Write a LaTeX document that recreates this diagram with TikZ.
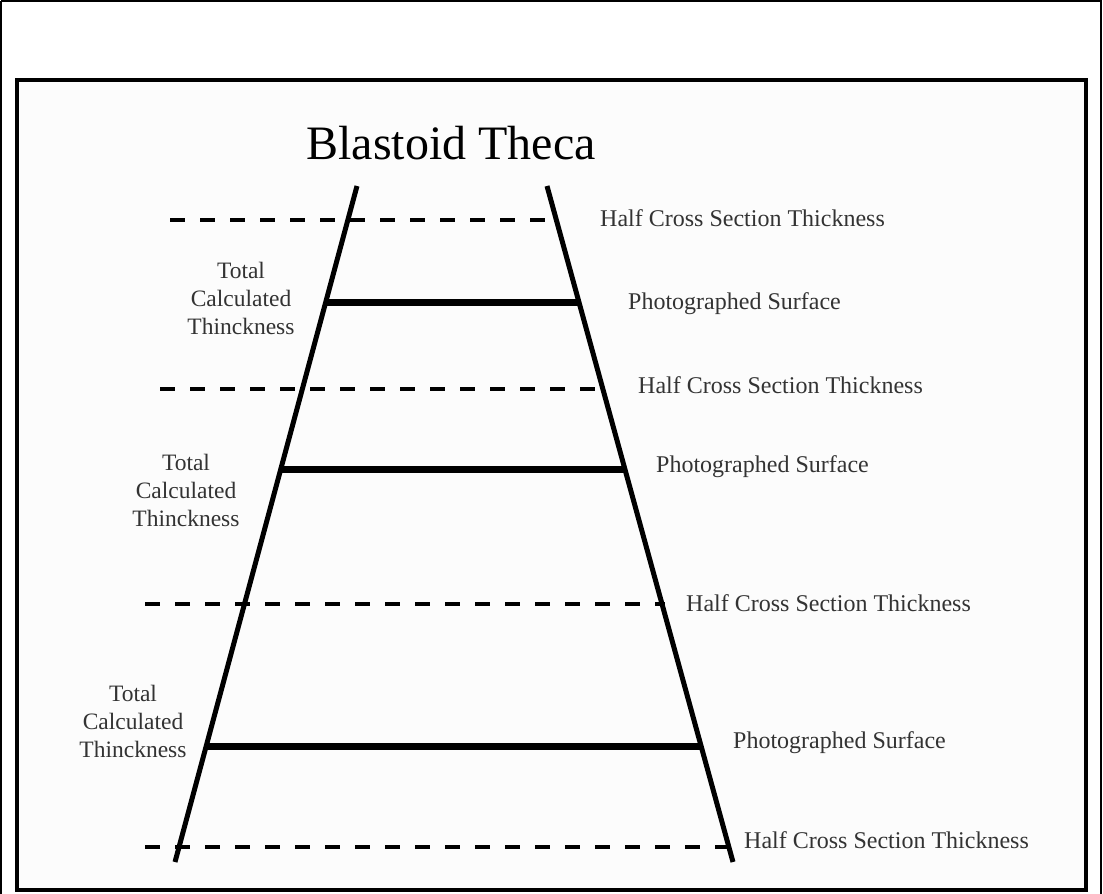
\documentclass[tikz,border=0pt]{standalone}
\usepackage{fontspec}
\setmainfont{Liberation Serif}
\usetikzlibrary{positioning}

\begin{document}
\begin{tikzpicture}[
    x=1pt, y=-1pt,
    wall/.style={line width=5pt},
    half/.style={line width=3.5pt, dash pattern=on 15pt off 15pt},
    surf/.style={line width=7pt},
    lbl/.style={anchor=west, font=\fontsize{24}{26}\selectfont, text=black!80, inner sep=0pt},
    total/.style={align=center, font=\fontsize{23.5}{28}\selectfont, text=black!80, inner sep=0pt}
]
\useasboundingbox (0,0) rectangle (1103,894);
\draw[line width=2pt] (1,1) -- (1101,1) -- (1101,894);
\draw[line width=2pt] (1,1) -- (1,894);
\draw[line width=4pt, fill=black!1] (17,80) rectangle (1086,890);

\node[font=\fontsize{48}{48}\selectfont] (title) at (451,143) {Blastoid Theca};

% sides of the theca
\coordinate (lt) at (357,186);
\coordinate (lb) at (175,862);
\coordinate (rt) at (547,186);
\coordinate (rb) at (733,862);
\draw[wall] (lt) -- (lb);
\draw[wall] (rt) -- (rb);

% half cross sections
\coordinate (h1a) at (170,220); \coordinate (h1b) at (558,220);
\coordinate (h2a) at (160,389); \coordinate (h2b) at (603,389);
\coordinate (h3a) at (145,604); \coordinate (h3b) at (665,604);
\coordinate (h4a) at (145,847); \coordinate (h4b) at (730,847);
\draw[half] (h1a) -- (h1b);
\draw[half] (h2a) -- (h2b);
\draw[half] (h3a) -- (h3b);
\draw[half] (h4a) -- (h4b);

% photographed surfaces
\coordinate (s1a) at (325,302); \coordinate (s1b) at (578,302);
\coordinate (s2a) at (281,469); \coordinate (s2b) at (626,469);
\coordinate (s3a) at (206,746); \coordinate (s3b) at (701,746);
\draw[surf] (s1a) -- (s1b);
\draw[surf] (s2a) -- (s2b);
\draw[surf] (s3a) -- (s3b);

\node[lbl] (hl1) at (600,218) {Half Cross Section Thickness};
\node[lbl] (hl2) at (638,385) {Half Cross Section Thickness};
\node[lbl] (hl3) at (686,603) {Half Cross Section Thickness};
\node[lbl] (hl4) at (744,840) {Half Cross Section Thickness};
\node[lbl] (pl1) at (628,304) {Photographed Surface};
\node[lbl] (pl2) at (656,467) {Photographed Surface};
\node[lbl] (pl3) at (733,743) {Photographed Surface};

\node[total] (t1) at (241,298) {Total\\Calculated\\Thinckness};
\node[total] (t2) at (186,490) {Total\\Calculated\\Thinckness};
\node[total] (t3) at (133,721) {Total\\Calculated\\Thinckness};
\end{tikzpicture}
\end{document}
